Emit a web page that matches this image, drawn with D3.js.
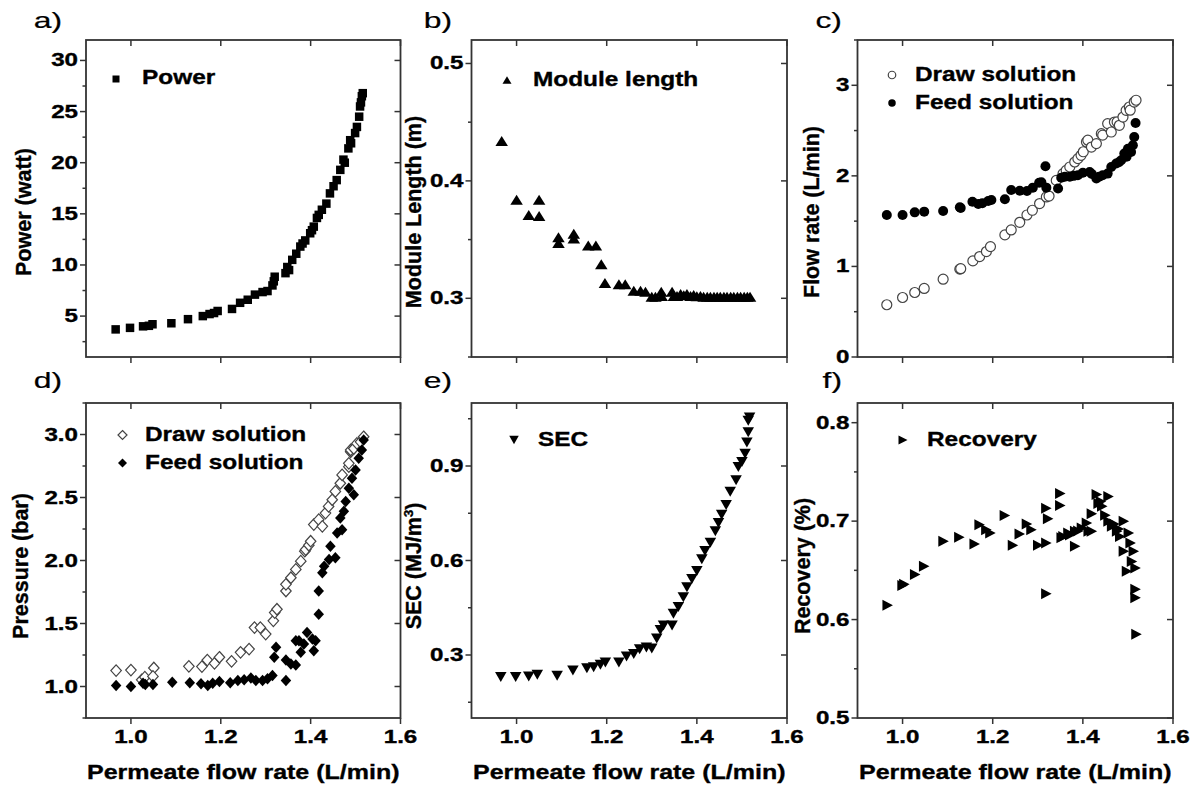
<!DOCTYPE html>
<html><head><meta charset="utf-8">
<script src="https://cdn.jsdelivr.net/npm/d3@7"></script>
<style>body{margin:0;background:#fff} svg{display:block} text{font-family:"Liberation Sans",Arial,sans-serif;fill:#000;stroke:#000;stroke-width:0.35px}</style>
</head><body><svg id="c" width="1197" height="792"></svg>
<script>
// ---------- DATA ----------
const xTicks = [1.0, 1.2, 1.4, 1.6];
const xTickLabels = ["1.0", "1.2", "1.4", "1.6"];

const powerTicks = [5, 10, 15, 20, 25, 30];
const powerTickLabels = ["5", "10", "15", "20", "25", "30"];
const powerData = [[0.966,3.7],[0.998,3.85],[1.027,4.0],[1.040,4.05],[1.048,4.2],[1.09,4.3],[1.127,4.7],[1.16,5.0],[1.175,5.2],[1.185,5.3],[1.193,5.5],[1.225,5.7],[1.243,6.3],[1.26,6.6],[1.276,7.1],[1.293,7.35],[1.304,7.45],[1.315,8.0],[1.318,8.4],[1.32,8.85],[1.344,9.2],[1.348,9.8],[1.352,9.5],[1.359,10.5],[1.368,11.1],[1.377,11.8],[1.382,12.1],[1.388,12.4],[1.399,13.1],[1.403,13.4],[1.407,13.75],[1.414,14.6],[1.418,14.9],[1.425,15.4],[1.435,16.0],[1.443,17.0],[1.451,17.7],[1.458,18.3],[1.466,19.3],[1.473,20.3],[1.476,20.0],[1.484,21.4],[1.488,22.2],[1.49,21.9],[1.499,22.9],[1.503,23.5],[1.508,24.5],[1.51,25.5],[1.512,25.9],[1.514,26.5],[1.516,26.8]];

const lengthTicks = [0.3, 0.4, 0.5];
const lengthTickLabels = ["0.3", "0.4", "0.5"];
const lengthData = [[0.967,0.434],[1.0,0.384],[1.027,0.371],[1.05,0.384],[1.05,0.370],[1.093,0.352],[1.093,0.347],[1.127,0.355],[1.127,0.351],[1.159,0.345],[1.176,0.345],[1.188,0.329],[1.196,0.313],[1.227,0.312],[1.241,0.312],[1.26,0.3065],[1.275,0.3065],[1.286,0.3056],[1.30,0.3014],[1.308,0.3014],[1.321,0.3056],[1.322,0.302],[1.345,0.3056],[1.349,0.302],[1.356,0.302],[1.364,0.3037],[1.371,0.3025],[1.378,0.3037],[1.386,0.302],[1.393,0.3028],[1.40,0.3018],[1.408,0.302],[1.415,0.3014],[1.423,0.3014],[1.43,0.3014],[1.438,0.3014],[1.445,0.3014],[1.452,0.3014],[1.46,0.3014],[1.467,0.3014],[1.475,0.3014],[1.482,0.3014],[1.49,0.3014],[1.497,0.3014],[1.505,0.3014],[1.512,0.3014],[1.518,0.3014]];

const flowTicks = [0, 1, 2, 3];
const flowTickLabels = ["0", "1", "2", "3"];
const drawFlowData = [[0.965,0.577],[1.0,0.657],[1.027,0.712],[1.048,0.757],[1.09,0.859],[1.127,0.97],[1.129,0.975],[1.156,1.061],[1.171,1.109],[1.186,1.164],[1.195,1.219],[1.227,1.348],[1.241,1.403],[1.26,1.487],[1.276,1.568],[1.288,1.62],[1.304,1.694],[1.319,1.767],[1.325,1.777],[1.341,1.95],[1.356,2.025],[1.363,2.06],[1.371,2.098],[1.382,2.153],[1.389,2.19],[1.396,2.227],[1.401,2.266],[1.408,2.374],[1.411,2.394],[1.419,2.318],[1.43,2.356],[1.441,2.466],[1.444,2.45],[1.455,2.577],[1.463,2.484],[1.47,2.594],[1.476,2.596],[1.481,2.558],[1.489,2.649],[1.496,2.723],[1.503,2.76],[1.505,2.725],[1.514,2.815],[1.518,2.835]];
const feedFlowData = [[0.965,1.568],[1.0,1.568],[1.027,1.597],[1.048,1.605],[1.09,1.612],[1.127,1.653],[1.129,1.645],[1.155,1.715],[1.168,1.689],[1.177,1.697],[1.19,1.722],[1.197,1.733],[1.227,1.741],[1.241,1.844],[1.26,1.836],[1.276,1.833],[1.289,1.87],[1.303,1.924],[1.308,1.93],[1.317,2.106],[1.319,1.87],[1.345,1.86],[1.352,1.98],[1.36,1.99],[1.371,1.99],[1.38,2.0],[1.389,2.007],[1.40,2.034],[1.415,2.043],[1.42,2.02],[1.43,1.97],[1.436,1.99],[1.444,2.007],[1.455,2.025],[1.463,2.098],[1.474,2.136],[1.48,2.15],[1.485,2.172],[1.492,2.246],[1.497,2.21],[1.5,2.3],[1.504,2.28],[1.507,2.263],[1.511,2.337],[1.514,2.429],[1.517,2.583]];

const pressureTicks = [1.0, 1.5, 2.0, 2.5, 3.0];
const pressureTickLabels = ["1.0", "1.5", "2.0", "2.5", "3.0"];
const drawPressureData = [[0.967,1.126],[1.0,1.13],[1.024,1.053],[1.031,1.074],[1.051,1.147],[1.049,1.08],[1.129,1.16],[1.158,1.158],[1.17,1.21],[1.186,1.184],[1.197,1.232],[1.224,1.2],[1.244,1.271],[1.263,1.297],[1.275,1.468],[1.288,1.468],[1.3,1.416],[1.317,1.521],[1.32,1.587],[1.325,1.613],[1.345,1.758],[1.345,1.811],[1.356,1.863],[1.367,1.929],[1.378,1.995],[1.387,2.074],[1.389,2.087],[1.396,2.121],[1.4,2.153],[1.407,2.285],[1.418,2.324],[1.426,2.271],[1.433,2.376],[1.44,2.429],[1.448,2.482],[1.455,2.548],[1.466,2.613],[1.47,2.679],[1.485,2.745],[1.485,2.771],[1.489,2.863],[1.489,2.877],[1.496,2.889],[1.503,2.929],[1.511,2.942],[1.518,2.982]];
const feedPressureData = [[0.967,1.008],[1.0,1.0],[1.027,1.026],[1.032,1.016],[1.049,1.016],[1.092,1.034],[1.131,1.029],[1.156,1.021],[1.171,1.008],[1.182,1.026],[1.197,1.039],[1.221,1.029],[1.238,1.047],[1.252,1.053],[1.267,1.068],[1.278,1.047],[1.293,1.047],[1.304,1.061],[1.315,1.087],[1.319,1.232],[1.323,1.311],[1.345,1.047],[1.345,1.211],[1.356,1.179],[1.367,1.171],[1.367,1.363],[1.374,1.363],[1.378,1.271],[1.385,1.337],[1.392,1.429],[1.404,1.376],[1.407,1.284],[1.411,1.363],[1.418,1.574],[1.418,1.758],[1.426,1.902],[1.43,1.955],[1.441,2.008],[1.444,2.113],[1.455,2.021],[1.459,2.218],[1.47,2.245],[1.466,2.337],[1.474,2.39],[1.478,2.469],[1.485,2.574],[1.496,2.521],[1.492,2.653],[1.5,2.719],[1.507,2.811],[1.514,2.877],[1.518,2.956]];

const secTicks = [0.3, 0.6, 0.9];
const secTickLabels = ["0.3", "0.6", "0.9"];
const secData = [[0.965,0.23],[0.998,0.23],[1.027,0.232],[1.046,0.237],[1.09,0.234],[1.125,0.251],[1.156,0.258],[1.171,0.261],[1.186,0.269],[1.197,0.276],[1.227,0.276],[1.244,0.295],[1.26,0.303],[1.273,0.318],[1.288,0.324],[1.3,0.321],[1.311,0.352],[1.319,0.379],[1.326,0.394],[1.345,0.394],[1.348,0.431],[1.359,0.452],[1.37,0.483],[1.378,0.515],[1.389,0.541],[1.4,0.567],[1.411,0.604],[1.418,0.63],[1.43,0.656],[1.441,0.693],[1.448,0.719],[1.455,0.745],[1.465,0.776],[1.474,0.818],[1.487,0.855],[1.492,0.897],[1.5,0.913],[1.507,0.939],[1.511,0.975],[1.514,1.007],[1.514,1.044],[1.517,1.054]];

const recoveryTicks = [0.5, 0.6, 0.7, 0.8];
const recoveryTickLabels = ["0.5", "0.6", "0.7", "0.8"];
const recoveryData = [[0.967,0.6145],[1.0,0.6347],[1.004,0.636],[1.028,0.6458],[1.048,0.6542],[1.091,0.6795],[1.126,0.6835],[1.16,0.6768],[1.171,0.6963],[1.186,0.6912],[1.195,0.6879],[1.227,0.7057],[1.245,0.6754],[1.26,0.6869],[1.276,0.697],[1.286,0.6912],[1.301,0.6754],[1.319,0.6778],[1.319,0.7131],[1.323,0.7024],[1.319,0.6263],[1.35,0.728],[1.35,0.716],[1.353,0.6832],[1.357,0.6845],[1.368,0.688],[1.372,0.686],[1.383,0.6896],[1.383,0.6744],[1.39,0.69],[1.398,0.693],[1.409,0.698],[1.413,0.6896],[1.42,0.6896],[1.42,0.7075],[1.431,0.727],[1.435,0.718],[1.44,0.72],[1.443,0.715],[1.45,0.706],[1.457,0.725],[1.457,0.70],[1.465,0.6947],[1.47,0.697],[1.476,0.6896],[1.48,0.692],[1.483,0.6845],[1.491,0.70],[1.502,0.688],[1.506,0.6778],[1.491,0.6694],[1.513,0.6694],[1.509,0.659],[1.498,0.6492],[1.517,0.6525],[1.517,0.6307],[1.517,0.6222],[1.519,0.5852]];

// ---------- LAYOUT ----------
const svg = d3.select("#c");
const FR = "#333";
const cols = [[86, 400.5], [471.5, 787], [857.5, 1173]];
const rows = [[40, 357], [403, 718]];

function shapePath(shape, w, h) {
  switch (shape) {
    case "square": return `M${-w/2},${-h/2}h${w}v${h}h${-w}Z`;
    case "up": return `M0,${-h/2}L${w/2},${h/2}L${-w/2},${h/2}Z`;
    case "down": return `M0,${h/2}L${w/2},${-h/2}L${-w/2},${-h/2}Z`;
    case "right": return `M${w/2},0L${-w/2},${-h/2}L${-w/2},${h/2}Z`;
    case "diamond": return `M0,${-h/2}L${w/2},0L0,${h/2}L${-w/2},0Z`;
    case "circle": { const r = w/2; return `M${r},0A${r},${r} 0 1,1 ${-r},0A${r},${r} 0 1,1 ${r},0Z`; }
  }
}
function styleMark(sel, open) {
  sel.attr("fill", open ? "#fff" : "#000")
     .attr("stroke", open ? "#444" : "none")
     .attr("stroke-width", open ? 1.2 : 0);
}
function stretchText(g, x, y, str, size, sx, weight, anchor) {
  return g.append("text")
    .attr("transform", `translate(${x},${y}) scale(${sx},1)`)
    .attr("font-size", size).attr("font-weight", weight)
    .attr("text-anchor", anchor).text(str);
}

const panels = [
  {c:0, r:0, label:"a)", yDom:[1,32], ticks:powerTicks, tl:powerTickLabels,
   title:"Power (watt)", series:[{d:powerData, shape:"square", w:8.5, h:8.5, open:false, name:"Power", lw:7, lh:7}],
   legend:[[116,79,142,84]]},
  {c:1, r:0, label:"b)", yDom:[0.25,0.52], ticks:lengthTicks, tl:lengthTickLabels,
   title:"Module Length (m)", series:[{d:lengthData, shape:"up", w:12.5, h:10, open:false, name:"Module length", lw:9, lh:7.5}],
   legend:[[507,80,533,86]]},
  {c:2, r:0, label:"c)", yDom:[0,3.5], ticks:flowTicks, tl:flowTickLabels,
   title:"Flow rate (L/min)", series:[
     {d:drawFlowData, shape:"circle", w:10, h:10, open:true, name:"Draw solution", lw:7.5, lh:7.5},
     {d:feedFlowData, shape:"circle", w:10, h:10, open:false, name:"Feed solution", lw:7.5, lh:7.5}],
   legend:[[892,75,915,81],[892,103,915,109]]},
  {c:0, r:1, label:"d)", yDom:[0.75,3.25], ticks:pressureTicks, tl:pressureTickLabels,
   title:"Pressure (bar)", series:[
     {d:drawPressureData, shape:"diamond", w:10.5, h:11.5, open:true, name:"Draw solution", lw:9, lh:9},
     {d:feedPressureData, shape:"diamond", w:10.5, h:11.5, open:false, name:"Feed solution", lw:9, lh:9}],
   legend:[[122.5,435,145,441],[122.5,463,145,469]]},
  {c:1, r:1, label:"e)", yDom:[0.1,1.1], ticks:secTicks, tl:secTickLabels,
   title:"SEC", series:[{d:secData, shape:"down", w:11.5, h:10, open:false, name:"SEC", lw:9.5, lh:8.5}],
   legend:[[514,440,538,446]]},
  {c:2, r:1, label:"f)", yDom:[0.5,0.82], ticks:recoveryTicks, tl:recoveryTickLabels,
   title:"Recovery (%)", series:[{d:recoveryData, shape:"right", w:10.5, h:11, open:false, name:"Recovery", lw:9, lh:9}],
   legend:[[903,440,927,446]]}
];

panels.forEach(p => {
  const [x0, x1] = cols[p.c], [y0, y1] = rows[p.r];
  const x = d3.scaleLinear().domain([0.9, 1.6]).range([x0, x1]);
  const y = d3.scaleLinear().domain(p.yDom).range([y1, y0]);
  const g = svg.append("g");

  // data marks
  p.series.forEach(s => {
    g.append("g").selectAll("path").data(s.d).join("path")
      .attr("d", shapePath(s.shape, s.w, s.h))
      .attr("transform", d => `translate(${x(d[0])},${y(d[1])})`)
      .call(sel => styleMark(sel, s.open));
  });

  // frame
  g.append("rect").attr("x", x0).attr("y", y0).attr("width", x1 - x0).attr("height", y1 - y0)
    .attr("fill", "none").attr("stroke", FR).attr("stroke-width", 1.8);

  // ticks
  const tk = g.append("g").attr("stroke", FR).attr("stroke-width", 1.5);
  xTicks.forEach(v => {
    tk.append("line").attr("x1", x(v)).attr("x2", x(v)).attr("y1", y1).attr("y2", y1 + 6);
    tk.append("line").attr("x1", x(v)).attr("x2", x(v)).attr("y1", y0).attr("y2", y0 + 6);
  });
  p.ticks.forEach(v => {
    tk.append("line").attr("x1", x0 - 6).attr("x2", x0).attr("y1", y(v)).attr("y2", y(v));
    tk.append("line").attr("x1", x1 - 6).attr("x2", x1).attr("y1", y(v)).attr("y2", y(v));
  });
  // minor ticks halfway between majors (left axis)
  const majStep = p.ticks[1] - p.ticks[0];
  d3.range(p.ticks[0] - majStep / 2, p.yDom[1] + 1e-6, majStep).forEach(v => {
    if (v < p.yDom[0] - 1e-6) return;
    tk.append("line").attr("x1", x0 - 3.5).attr("x2", x0).attr("y1", y(v)).attr("y2", y(v));
  });

  // y tick labels
  p.ticks.forEach((v, i) => {
    stretchText(g, x0 - 8, y(v) + 6, p.tl[i], 17.5, 1.38, "bold", "end");
  });

  // x tick labels (bottom row)
  if (p.r === 1) {
    xTicks.forEach((v, i) => stretchText(g, x(v), 743, xTickLabels[i], 17.5, 1.38, "bold", "middle"));
    stretchText(g, (x0 + x1) / 2, 779, "Permeate flow rate (L/min)", 21, 1.19, "bold", "middle");
  }

  // y title
  const ty = p.r === 0 ? 212 : 566;
  const tx = [31, 421, 819][p.c] - (p.r === 1 && p.c === 0 ? 3 : 0) - (p.r === 1 && p.c === 2 ? 9 : 0);
  const tt = g.append("text").attr("transform", `translate(${tx},${ty}) rotate(-90)`)
    .attr("font-size", 21.5).attr("font-weight", "bold").attr("text-anchor", "middle");
  if (p.title === "SEC") {
    tt.append("tspan").text("SEC (MJ/m");
    tt.append("tspan").attr("font-size", 13).attr("dy", -8).text("3");
    tt.append("tspan").attr("dy", 8).text(")");
  } else tt.text(p.title);

  // panel label
  stretchText(g, [62, 452, 842][p.c], p.r === 0 ? 28 : 388, p.label, 22, 1.45, "normal", "end")
    .style("stroke-width", "0.2px");

  // legend
  p.series.forEach((s, i) => {
    const L = p.legend[i];
    g.append("path").attr("d", shapePath(s.shape, s.lw, s.lh))
      .attr("transform", `translate(${L[0]},${L[1]})`).call(sel => styleMark(sel, s.open));
    stretchText(g, L[2], L[3], s.name, 20, 1.22, "bold", "start");
  });
});
</script></body></html>
